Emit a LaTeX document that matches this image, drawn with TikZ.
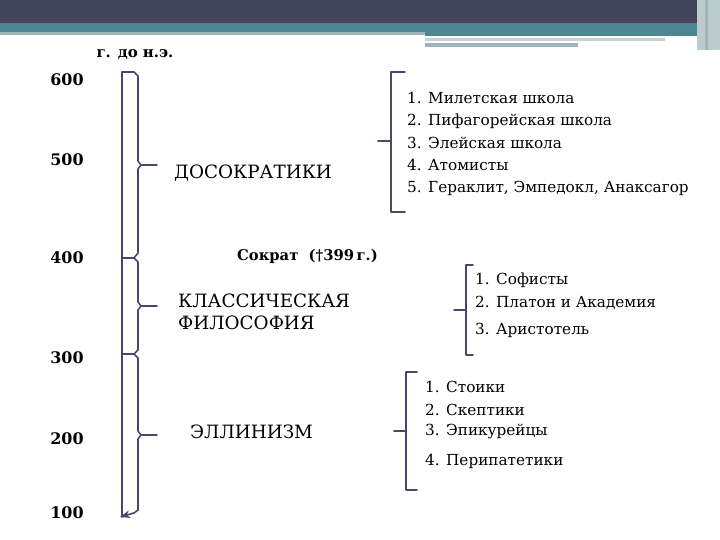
\documentclass[tikz,border=0pt]{standalone}
\usepackage{fontspec}
\setmainfont{DejaVu Serif}
\usetikzlibrary{arrows.meta}

\definecolor{bardark}{RGB}{63,68,86}
\definecolor{barmid}{RGB}{74,68,88}
\definecolor{barteal}{RGB}{74,135,144}
\definecolor{barlight}{RGB}{160,181,185}
\definecolor{linecol}{RGB}{72,72,108}

\tikzset{
  yearlab/.style={font=\fontsize{16}{18}\selectfont\bfseries, inner sep=0pt},
  itemlab/.style={font=\fontsize{15.3}{18}\selectfont, anchor=west, inner sep=0pt},
  eralab/.style={font=\fontsize{18.4}{22}\selectfont, anchor=west, inner sep=0pt, align=left},
  brk/.style={linecol, line width=1.6pt}
}

\begin{document}
\begin{tikzpicture}[x=1bp, y=-1bp, >=Stealth, line join=round, line cap=round]
    \useasboundingbox (0,0) rectangle (720,540);

    % полоса сверху
    \fill[bardark] (0,0) rectangle (720,19);
    \fill[barmid] (0,18) rectangle (720,23);
    \fill[barteal] (0,23) rectangle (720,32);
    \fill[barlight] (0,32) rectangle (425,35);
    \fill[barteal] (425,32) rectangle (697,36);
    \fill[barlight!60] (425,38) rectangle (665,41);
    \fill[barlight] (425,43) rectangle (578,47);
    \fill[barlight!70] (697,0) rectangle (720,50);
    \fill[barlight] (705,0) rectangle (708,50);

    % подпись шкалы
    \node[font=\fontsize{15}{17}\selectfont\bfseries] (era) at (135,55) {г. до н.э.};

    % годы
    \node[yearlab] (y600) at (67,80) {600};
    \node[yearlab] (y500) at (67,160) {500};
    \node[yearlab] (y400) at (67,258) {400};
    \node[yearlab] (y300) at (67,358) {300};
    \node[yearlab] (y200) at (67,439) {200};
    \node[yearlab] (y100) at (67,513) {100};

    % шкала времени
    \coordinate (L0) at (122,72);
    \coordinate (L1) at (122,517);
    \draw[brk] (L0) -- (L1);
    \draw[brk] (L0) -- (134,72) -- (138,76) -- (138,161) -- (141,165) -- (138,169)
      -- (138,253) -- (134,258) -- (122,258);
    \draw[brk] (122,258) -- (134,258) -- (138,262) -- (138,302) -- (141,306) -- (138,310)
      -- (138,350) -- (134,354) -- (122,354);
    \draw[brk] (122,354) -- (134,354) -- (138,358) -- (138,431) -- (141,435) -- (138,439)
      -- (138,510) -- (134,513);
    \draw[brk, ->] (134,513) -- (120,517);
    % острия скобок
    \draw[brk] (141,165) -- (157,165);
    \draw[brk] (141,306) -- (157,306);
    \draw[brk] (141,435) -- (157,435);

    % периоды
    \node[eralab] (pre) at (174,173) {ДОСОКРАТИКИ};
    \node[font=\fontsize{14.8}{17}\selectfont\bfseries, anchor=west, inner sep=0pt] (sok) at (237,256) {Сократ\ \ (†399\,г.)};
    \node[eralab] (cls) at (178,312) {КЛАССИЧЕСКАЯ\\ФИЛОСОФИЯ};
    \node[eralab] (hel) at (190,432) {ЭЛЛИНИЗМ};

    % досократики: школы
    \draw[brk] (405,72) -- (391,72) -- (391,212) -- (405,212);
    \draw[brk] (391,141) -- (378,141);
    \node[itemlab] (m1) at (407,98) {1. Милетская школа};
    \node[itemlab] (m2) at (407,121) {2. Пифагорейская школа};
    \node[itemlab] (m3) at (407,143) {3. Элейская школа};
    \node[itemlab] (m4) at (407,165) {4. Атомисты};
    \node[itemlab] (m5) at (407,188) {5. Гераклит, Эмпедокл, Анаксагор};

    % классика
    \draw[brk] (473,265) -- (466,265) -- (466,355) -- (473,355);
    \draw[brk] (466,310) -- (454,310);
    \node[itemlab] (k1) at (475,280) {1. Софисты};
    \node[itemlab] (k2) at (475,303) {2. Платон и Академия};
    \node[itemlab] (k3) at (475,330) {3. Аристотель};

    % эллинизм
    \draw[brk] (417,372) -- (406,372) -- (406,490) -- (417,490);
    \draw[brk] (406,431) -- (394,431);
    \node[itemlab] (e1) at (425,387) {1. Стоики};
    \node[itemlab] (e2) at (425,410) {2. Скептики};
    \node[itemlab] (e3) at (425,432) {3. Эпикурейцы};
    \node[itemlab] (e4) at (425,461) {4. Перипатетики};
\end{tikzpicture}
\end{document}
